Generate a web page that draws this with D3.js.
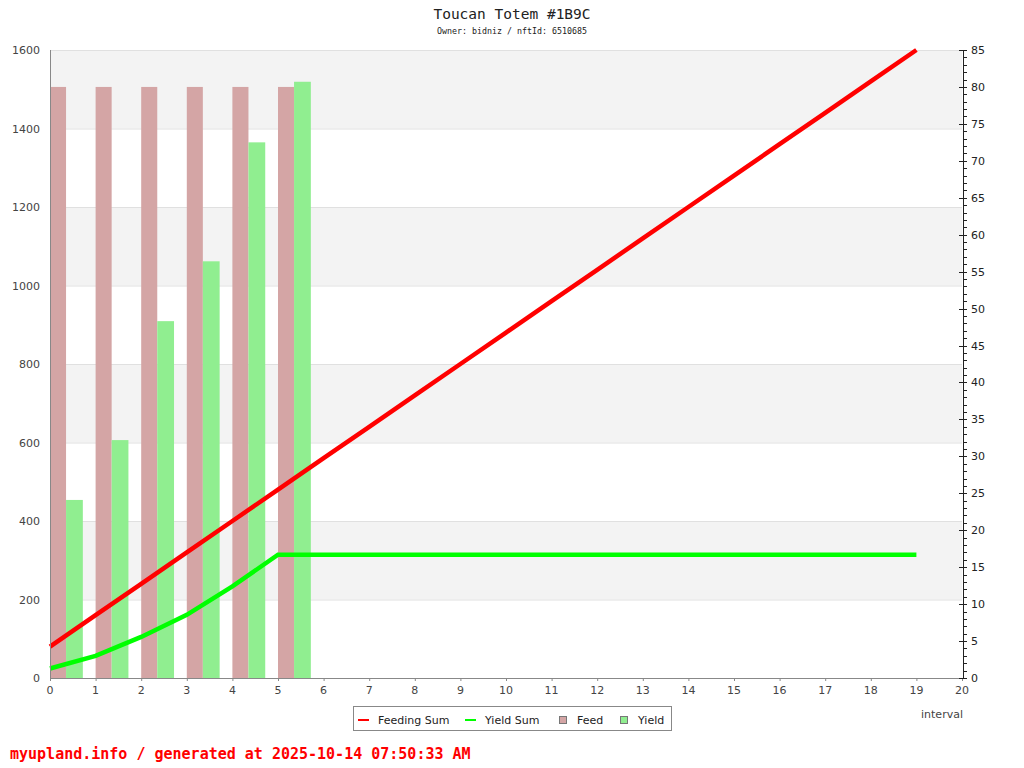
<!DOCTYPE html>
<html><head><meta charset="utf-8">
<script src="https://cdn.jsdelivr.net/npm/d3@7"></script>
<style>body{margin:0;background:#fff}svg{display:block}</style>
</head><body>
<script>
const intervals = [0,1,2,3,4,5,6,7,8,9,10,11,12,13,14,15,16,17,18,19];
const feedingSum = [80,160,240,320,400,480,560,640,720,800,880,960,1040,1120,1200,1280,1360,1440,1520,1600];
const yieldSum = [24.1,56.3,104.6,161,233.5,314,314,314,314,314,314,314,314,314,314,314,314,314,314,314];
const barIntervals = [0,1,2,3,4,5];
const feed = [80,80,80,80,80,80];
const yieldVals = [24.1,32.2,48.3,56.4,72.5,80.7];
const leftTicks = [0,200,400,600,800,1000,1200,1400,1600];
const rightTicks = [0,5,10,15,20,25,30,35,40,45,50,55,60,65,70,75,80,85];
const title = "Toucan Totem #1B9C";
const subtitle = "Owner: bidniz / nftId: 6510685";
const footer = "myupland.info / generated at 2025-10-14 07:50:33 AM";

const W=1024,H=768;
const svg=d3.select("body").append("svg").attr("width",W).attr("height",H);
const L=50,R=962,T=50,B=678;
const x=d3.scaleLinear().domain([0,20]).range([L,R]);
const yL=d3.scaleLinear().domain([0,1600]).range([B,T]);
const yR=d3.scaleLinear().domain([0,85]).range([B,T]);

// bands
const bands=[[200,400],[600,800],[1000,1200],[1400,1600]];
svg.append("g").selectAll("rect").data(bands).join("rect")
  .attr("x",L).attr("width",R-L).attr("y",d=>yL(d[1])).attr("height",d=>yL(d[0])-yL(d[1]))
  .attr("fill","#f3f3f3");
svg.append("g").selectAll("line").data(leftTicks.filter(d=>d>0)).join("line")
  .attr("x1",L).attr("x2",R).attr("y1",d=>yL(d)+0.5).attr("y2",d=>yL(d)+0.5)
  .attr("stroke","#e0e0e0").attr("stroke-width",1);

// bars
const uw = x(1)-x(0);
svg.append("g").selectAll("rect").data(barIntervals).join("rect")
  .attr("x",(d)=>x(d)).attr("width",uw*0.352).attr("y",(d,i)=>yR(feed[i])).attr("height",(d,i)=>B-yR(feed[i]))
  .attr("fill","#d4a5a5");
svg.append("g").selectAll("rect").data(barIntervals).join("rect")
  .attr("x",(d)=>x(d)+uw*0.352).attr("width",uw*0.368).attr("y",(d,i)=>yR(yieldVals[i])).attr("height",(d,i)=>B-yR(yieldVals[i]))
  .attr("fill","#90ee90");

// lines
const line=d3.line().x((d,i)=>x(intervals[i])).y(d=>yL(d));
svg.append("path").datum(feedingSum).attr("d",line).attr("fill","none").attr("stroke","#ff0000").attr("stroke-width",4.5);
svg.append("path").datum(yieldSum).attr("d",line).attr("fill","none").attr("stroke","#00ff00").attr("stroke-width",4.5);

// axes
const font="DejaVu Sans, sans-serif";
svg.append("line").attr("x1",L+0.5).attr("x2",L+0.5).attr("y1",T).attr("y2",B).attr("stroke","#888");
svg.append("line").attr("x1",L).attr("x2",R).attr("y1",B+0.5).attr("y2",B+0.5).attr("stroke","#888");
svg.append("line").attr("x1",R+1.5).attr("x2",R+1.5).attr("y1",T).attr("y2",B).attr("stroke","#222");

const gl=svg.append("g");
gl.selectAll("text").data(leftTicks).join("text").attr("x",40).attr("y",d=>yL(d)+4)
  .attr("text-anchor","end").attr("font-family",font).attr("font-size",11).attr("fill","#444").text(d=>d);

const xt=svg.append("g");
xt.selectAll("text").data(d3.range(0,21)).join("text").attr("x",d=>x(d)).attr("y",694)
  .attr("text-anchor","middle").attr("font-family",font).attr("font-size",11).attr("fill","#444").text(d=>d);
xt.selectAll("line").data(d3.range(0,21)).join("line").attr("x1",d=>x(d)+0.5).attr("x2",d=>x(d)+0.5)
  .attr("y1",B).attr("y2",B+3).attr("stroke","#888");
svg.append("text").attr("x",942).attr("y",718).attr("text-anchor","middle").attr("font-family",font)
  .attr("font-size",11).attr("fill","#444").text("interval");

const rg=svg.append("g");
rg.selectAll("line").data(d3.range(0,86)).join("line")
  .attr("x1",d=>d%5===0?959:963).attr("x2",967).attr("y1",d=>Math.round(yR(d))+0.5).attr("y2",d=>Math.round(yR(d))+0.5)
  .attr("stroke","#222");
rg.selectAll("text").data(rightTicks).join("text").attr("x",971).attr("y",d=>yR(d)+4)
  .attr("font-family",font).attr("font-size",11).attr("fill","#222").text(d=>d);

// title
svg.append("text").attr("x",512).attr("y",19).attr("text-anchor","middle").attr("font-family","DejaVu Sans Mono, monospace")
  .attr("font-size",14.5).attr("fill","#222").text(title);
svg.append("text").attr("x",512).attr("y",34).attr("text-anchor","middle").attr("font-family","DejaVu Sans Mono, monospace")
  .attr("font-size",8.3).attr("fill","#222").text(subtitle);

// legend
const lg=svg.append("g");
lg.append("rect").attr("x",353.5).attr("y",706.5).attr("width",318).attr("height",24).attr("fill","#fff").attr("stroke","#888");
const items=[{t:"Feeding Sum",type:"line",c:"#ff0000",x:358},{t:"Yield Sum",type:"line",c:"#00ff00",x:465},{t:"Feed",type:"box",c:"#d4a5a5",x:559},{t:"Yield",type:"box",c:"#90ee90",x:620}];
items.forEach(it=>{
  if(it.type==="line") lg.append("rect").attr("x",it.x).attr("y",719).attr("width",11).attr("height",2).attr("fill",it.c);
  else lg.append("rect").attr("x",it.x+0.5).attr("y",716.5).attr("width",7).attr("height",7).attr("fill",it.c).attr("stroke","#777");
  lg.append("text").attr("x",it.type==="line"?it.x+20:it.x+18).attr("y",724).attr("font-family",font).attr("font-size",11).attr("fill","#222").text(it.t);
});

svg.append("text").attr("x",10).attr("y",759).attr("font-family","DejaVu Sans Mono, monospace").attr("font-size",15)
  .attr("font-weight","bold").attr("fill","#ff0000").text(footer);
</script>
</body></html>
